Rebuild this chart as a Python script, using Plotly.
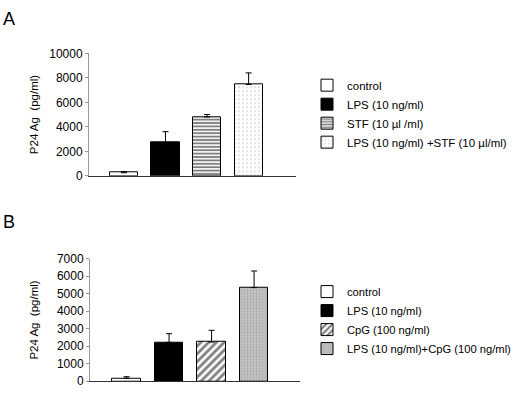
import plotly.graph_objects as go

# ---- data ----
cats_a = ["control", "LPS (10 ng/ml)", "STF (10 \u00b5l /ml)", "LPS (10 ng/ml) +STF (10 \u00b5l/ml)"]
mean_a = [250, 2700, 4800, 7450]
err_a = [80, 900, 200, 950]

cats_b = ["control", "LPS (10 ng/ml)", "CpG (100 ng/ml)", "LPS (10 ng/ml)+CpG (100 ng/ml)"]
mean_b = [165, 2220, 2240, 5350]
err_b = [95, 500, 670, 950]

yticks_a = [0, 2000, 4000, 6000, 8000, 10000]
yticks_b = [0, 1000, 2000, 3000, 4000, 5000, 6000, 7000]
ytitle = "P24 Ag  (pg/ml)"

FONT = "Liberation Sans, Arial, sans-serif"
W, H = 520, 395

styles_a = [
    dict(color="white", pattern=dict(shape="")),
    dict(color="black", pattern=dict(shape="")),
    dict(color="white", pattern=dict(shape="-", fgcolor="black", size=3.4, solidity=0.55)),
    dict(color="white", pattern=dict(shape=".", fgcolor="#777", size=4, solidity=0.12)),
]
styles_b = [
    dict(color="white", pattern=dict(shape="")),
    dict(color="black", pattern=dict(shape="")),
    dict(color="white", pattern=dict(shape="/", fgcolor="black", size=5.5, solidity=0.5)),
    dict(color="#c4c4c4", pattern=dict(shape=".", fgcolor="#8a8a8a", size=3, solidity=0.3)),
]

fig = go.Figure()

def add_panel(cats, means, errs, styles, xa, ya, legend, width):
    for i, c in enumerate(cats):
        st = styles[i]
        fig.add_trace(go.Bar(
            x=[i], y=[means[i]], name=c, xaxis=xa, yaxis=ya, legend=legend,
            width=width,
            marker=dict(color=st["color"], line=dict(color="black", width=1),
                        pattern=st["pattern"]),
            error_y=dict(type="data", symmetric=False, array=[errs[i]], arrayminus=[0],
                         color="black", thickness=1, width=3),
        ))

add_panel(cats_a, mean_a, err_a, styles_a, "x", "y", "legend", 0.675)
add_panel(cats_b, mean_b, err_b, styles_b, "x2", "y2", "legend2", 0.67)

def px_x(p):
    return p / W

def px_y(p):
    return 1 - p / H

xcommon = dict(showgrid=False, zeroline=False, showticklabels=False, ticks="",
               showline=True, linecolor="#333", linewidth=1, tickmode="array", tickvals=[])
ycommon = dict(showgrid=False, zeroline=False, showline=True, linecolor="#999", linewidth=1,
               ticks="outside", ticklen=3, tickcolor="#999",
               tickfont=dict(family=FONT, size=12, color="black"))

fig.update_layout(
    width=W, height=H, margin=dict(l=0, r=0, t=0, b=0),
    plot_bgcolor="white", paper_bgcolor="white",
    font=dict(family=FONT, color="black"),
    bargap=0,
    xaxis=dict(domain=[px_x(89), px_x(296)], range=[-0.84, 4.14], anchor="y", **xcommon),
    yaxis=dict(domain=[px_y(175), px_y(48)], range=[0, 10000], anchor="x",
               tickvals=yticks_a, ticktext=[str(v) for v in yticks_a],
               title=dict(text=ytitle, font=dict(family=FONT, size=11.5), standoff=8),
               **ycommon),
    xaxis2=dict(domain=[px_x(90), px_x(300)], range=[-0.86, 4.08], anchor="y2", **xcommon),
    yaxis2=dict(domain=[px_y(388), px_y(261)], range=[0, 7000], anchor="x2",
                tickvals=yticks_b, ticktext=[str(v) for v in yticks_b],
                title=dict(text=ytitle, font=dict(family=FONT, size=11.5), standoff=15),
                **ycommon),
    legend=dict(x=px_x(307), y=px_y(66), xanchor="left", yanchor="top",
                font=dict(family=FONT, size=11.5), bgcolor="rgba(0,0,0,0)",
                tracegroupgap=0, itemwidth=30),
    legend2=dict(x=px_x(307), y=px_y(280), xanchor="left", yanchor="top",
                 font=dict(family=FONT, size=11.2), bgcolor="rgba(0,0,0,0)",
                 tracegroupgap=0, itemwidth=30),
    annotations=[
        dict(text="A", x=px_x(1), y=px_y(0), xref="paper", yref="paper",
             xanchor="left", yanchor="top", showarrow=False,
             font=dict(family=FONT, size=18)),
        dict(text="B", x=px_x(1), y=px_y(210), xref="paper", yref="paper",
             xanchor="left", yanchor="top", showarrow=False,
             font=dict(family=FONT, size=18)),
    ],
)

fig.write_html("out.html", config={"displayModeBar": False},
               post_script="document.body.style.margin='0px';")
